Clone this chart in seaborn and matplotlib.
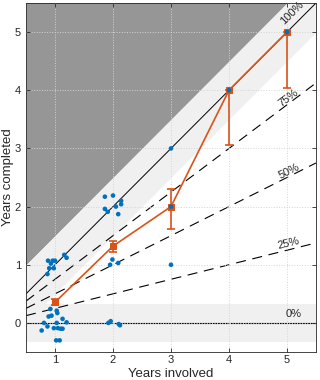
import numpy as np
import pandas as pd
import seaborn as sns
import matplotlib.pyplot as plt

# individual participants (jittered positions)
pts_x = [0.88, 0.96, 1.00, 0.93, 0.90, 0.98, 0.87, 1.16, 1.20,
         0.92, 1.03, 1.04, 0.89, 0.94, 1.13, 0.81, 1.03, 1.20, 0.87, 0.77,
         0.98, 1.05, 1.10, 1.13, 1.02, 1.08,
         1.86, 2.00, 1.86, 1.91, 2.05, 2.14, 2.14, 2.09, 1.99, 1.95, 2.09,
         1.92, 1.96, 2.10, 2.12,
         3, 3, 3, 4, 5]
pts_y = [1.07, 1.07, 1.07, 1.02, 0.94, 0.94, 0.84, 1.17, 1.12,
         0.24, 0.21, 0.17, 0.11, 0.125, 0.07, 0.00, 0.00, 0.01, -0.06, -0.13,
         -0.09, -0.09, -0.10, -0.10, -0.30, -0.30,
         2.17, 2.19, 1.96, 1.91, 2.00, 2.10, 2.04, 1.87, 1.09, 1.00, 1.03,
         0.00, 0.03, -0.02, -0.04,
         3, 2, 1, 4, 5]

# group means with error bars
years = [1, 2, 3, 4, 5]
mean_completed = [0.355, 1.32, 2.00, 4.00, 5.00]
err_low = [0.30, 1.22, 1.62, 3.06, 4.04]
err_high = [0.41, 1.40, 2.31, 4.00, 5.00]

# reference proportions
fractions = [0.25, 0.5, 0.75]
frac_labels = ['25%', '50%', '75%']

blue = '#0072BD'
orange = '#D95319'
txt = '#262626'

sns.set_style('ticks')
plt.rcParams['font.family'] = ['Liberation Sans', 'DejaVu Sans']

fig = plt.figure(figsize=(3.2, 3.8), dpi=100)
ax = fig.add_axes([26 / 320, 28 / 380, 290 / 320, 349 / 380])

xs = np.array([0.5, 5.5])
ax.fill_between(xs, xs + 0.5, 6, color='#969696', lw=0, zorder=0)
ax.fill_between(xs, xs - 0.5, xs + 0.5, color='#f0f0f0', lw=0, zorder=0)
ax.axhspan(-1 / 3, 1 / 3, color='#f0f0f0', lw=0, zorder=0)

ax.grid(True, ls=':', lw=0.7, color='#d4d4d4', zorder=0.5)
ax.set_axisbelow(False)

ax.plot(xs, xs, color='black', lw=0.7, zorder=2)
ax.axhline(0, color='black', lw=0.8, zorder=2)
for f in fractions:
    ax.plot(xs, f * xs, color='black', lw=0.8, dashes=(9, 6), zorder=2)

# percentage labels
ax.text(5.08, 5.33, '100%', rotation=45, ha='center', va='center', fontsize=8, color=txt)
label_pos = [(5.02, 1.37), (5.03, 2.60), (5.03, 3.86)]
for f, lab, (lx, ly) in zip(fractions, frac_labels, label_pos):
    ang = np.degrees(np.arctan(f * 58.2 / 58))
    ax.text(lx, ly, lab, rotation=ang, ha='center', va='center', fontsize=8, color=txt)
ax.text(5.12, 0.16, '0%', ha='center', va='center', fontsize=8, color=txt)

means = pd.DataFrame({'years': years, 'completed': mean_completed})
yerr = [np.array(mean_completed) - np.array(err_low),
        np.array(err_high) - np.array(mean_completed)]
ax.errorbar(years, mean_completed, yerr=yerr, fmt='none', ecolor=orange,
            elinewidth=1.2, capsize=3, capthick=1.2, zorder=3)
sns.lineplot(data=means, x='years', y='completed', ax=ax, color=orange, lw=1.2,
             marker='s', markersize=5, markeredgecolor=orange, zorder=3)

sns.scatterplot(x=pts_x, y=pts_y, ax=ax, color=blue, s=11, edgecolor='none', zorder=4)

ax.set_xlim(0.5, 5.5)
ax.set_ylim(-0.5, 5.5)
ax.set_xticks(years)
ax.set_yticks([0, 1, 2, 3, 4, 5])
ax.tick_params(direction='in', length=3, width=0.6, labelsize=8, colors=txt,
               top=True, right=True)
ax.tick_params(axis='x', pad=2.5)
for sp in ax.spines.values():
    sp.set_color(txt)
    sp.set_linewidth(0.6)
ax.set_xlabel('Years involved', fontsize=9.5, color=txt)
ax.set_ylabel('Years completed', fontsize=9.5, color=txt)
ax.xaxis.set_label_coords(0.5, -0.045)
ax.yaxis.set_label_coords(-0.041, 0.5)

fig.savefig('out.png', dpi=100)
